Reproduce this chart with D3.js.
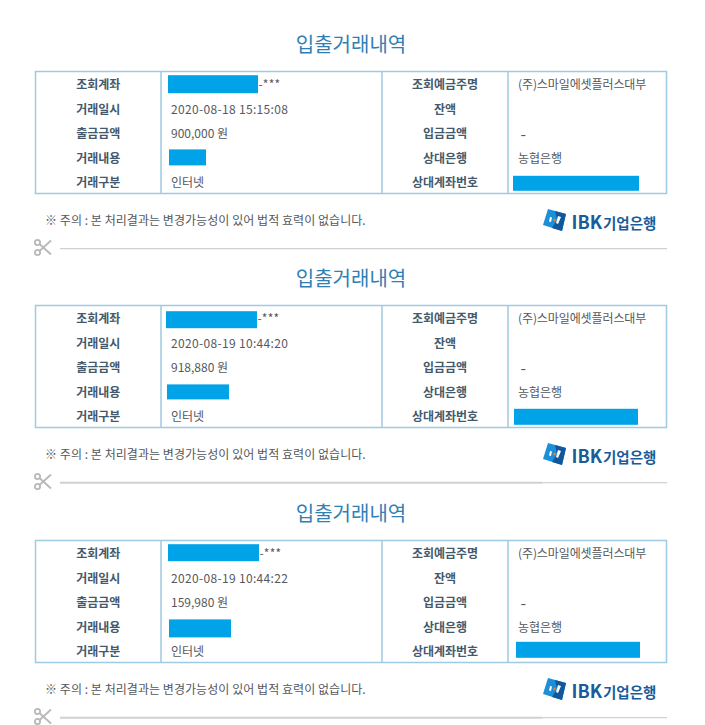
<!DOCTYPE html>
<html>
<head>
<meta charset="utf-8">
<script src="https://cdn.jsdelivr.net/npm/d3@7"></script>
<style>
body { margin: 0; background: #fff; }
text { font-family: "Noto Sans CJK KR", "Noto Sans", sans-serif; }
</style>
</head>
<body>
<svg id="receipts" width="705" height="725"></svg>
<script>
// data
const title = '입출거래내역';
const notice = '※ 주의 : 본 처리결과는 변경가능성이 있어 법적 효력이 없습니다.';
const leftLabels = ['조회계좌', '거래일시', '출금금액', '거래내용', '거래구분'];
const rightLabels = ['조회예금주명', '잔액', '입금금액', '상대은행', '상대계좌번호'];
const tradeTimes = ['2020-08-18 15:15:08', '2020-08-19 10:44:20', '2020-08-19 10:44:22'];
const amounts = ['900,000 원', '918,880 원', '159,980 원'];
const channel = '인터넷';
const accountSuffix = '-***';
const holder = '(주)스마일에셋플러스대부';
const depositAmount = '-';
const otherBank = '농협은행';

// painted-over fields, one entry per receipt: [start in cell, width, offset from row centre, height]
const accountMask = [[7, 90, -9, 18], [5, 91, -7, 17], [7, 91, -9, 17]];
const contentMask = [[8, 37, -8, 16], [6, 62, -7, 15], [8, 62, -7, 18]];
const otherAccountMask = [[5, 126, -6, 15], [6, 124, -7, 16], [8, 124, -9, 16]];

const receiptTops = [0, 234, 469];
const cutLineWeights = [1.2, 2, 2];

const svg = d3.select('#receipts');
const blue = '#00a2e8';
const border = '#9fcae1';
const textGrey = '#55585c';

const colX = d3.scaleOrdinal()
    .domain(['left', 'leftValue', 'right', 'rightValue', 'end'])
    .range([35.5, 161, 382, 508, 666.5]);
const rowY = d3.scaleBand().domain(d3.range(5)).range([72, 194]);

function drawScissors(g, y) {
    const s = g.append('g')
        .attr('transform', 'translate(42,' + y + ')')
        .attr('fill', 'none')
        .attr('stroke', '#b8b8b8')
        .attr('stroke-width', 1.8);
    s.append('circle').attr('cx', -4.5).attr('cy', -5).attr('r', 2.6);
    s.append('circle').attr('cx', -4.5).attr('cy', 5).attr('r', 2.6);
    s.append('line').attr('x1', -2.5).attr('y1', -3.5).attr('x2', 9).attr('y2', 7);
    s.append('line').attr('x1', -2.5).attr('y1', 3.5).attr('x2', 9).attr('y2', -7);
}

function drawLogo(g) {
    const logo = g.append('g').attr('transform', 'translate(543,209)');
    logo.append('path')
        .attr('d', 'M5,0 L23,5 L19,22 L0,16 Z')
        .attr('fill', '#1c8fd8');
    logo.append('path')
        .attr('d', 'M12,2 L23,5 L19,22 L9,19 L14,11 Z')
        .attr('fill', '#12569c');
    logo.append('path')
        .attr('d', 'M7,8 L9,8.5 L8,13 L6,12.5 Z M15,7 L18,8 L15,15 L13,14 Z')
        .attr('fill', '#fff');
    logo.append('circle')
        .attr('cx', 11.5).attr('cy', 11).attr('r', 1.2)
        .attr('fill', '#f08030');
    logo.append('text')
        .attr('x', 28.5).attr('y', 20)
        .attr('font-size', 18).attr('font-weight', 700)
        .attr('fill', '#1a5c9a')
        .text('IBK');
    logo.append('text')
        .attr('x', 60).attr('y', 19.5)
        .attr('font-size', 14.5).attr('font-weight', 700)
        .attr('fill', '#1a5c9a')
        .text('기업은행');
}

receiptTops.forEach((top, i) => {
    const g = svg.append('g').attr('transform', 'translate(0,' + top + ')');

    g.append('text')
        .attr('x', 351).attr('y', 43.5)
        .attr('text-anchor', 'middle').attr('dominant-baseline', 'central')
        .attr('font-size', 20).attr('fill', '#2f7fb5')
        .text(title);

    g.append('rect')
        .attr('x', colX('left')).attr('y', rowY.range()[0] - 0.5)
        .attr('width', colX('end') - colX('left'))
        .attr('height', rowY.range()[1] - rowY.range()[0])
        .attr('fill', 'none').attr('stroke', border).attr('stroke-width', 1.5);

    ['leftValue', 'right', 'rightValue'].forEach(c => {
        g.append('line')
            .attr('x1', colX(c)).attr('x2', colX(c))
            .attr('y1', rowY.range()[0]).attr('y2', rowY.range()[1])
            .attr('stroke', border).attr('stroke-width', 1.5);
    });

    const cellY = r => rowY(r) + rowY.bandwidth() / 2 - 0.3;

    const labelCol = (labels, c0, c1) => {
        g.selectAll(null).data(labels).enter().append('text')
            .attr('x', (colX(c0) + colX(c1)) / 2)
            .attr('y', (d, r) => cellY(r))
            .attr('text-anchor', 'middle').attr('dominant-baseline', 'central')
            .attr('font-size', 12).attr('font-weight', 700)
            .attr('fill', '#44596b')
            .text(d => d);
    };
    labelCol(leftLabels, 'left', 'leftValue');
    labelCol(rightLabels, 'right', 'rightValue');

    const valueText = (x, r, value) => g.append('text')
        .attr('x', x)
        .attr('y', cellY(r))
        .attr('dominant-baseline', 'central')
        .attr('font-size', 12).attr('fill', textGrey)
        .text(value);

    valueText(colX('leftValue') + 10, 1, tradeTimes[i]).attr('letter-spacing', 0.33);
    valueText(colX('leftValue') + 10, 2, amounts[i]);
    valueText(colX('leftValue') + 10, 4, channel);
    valueText(colX('rightValue') + 10, 0, holder).attr('letter-spacing', -0.1);
    valueText(colX('rightValue') + 12.5, 2, depositAmount).attr('font-size', 16);
    valueText(colX('rightValue') + 10, 3, otherBank);

    // painted-over fields
    const masks = [
        {cell: 'leftValue', r: 0, m: accountMask[i]},
        {cell: 'leftValue', r: 3, m: contentMask[i]},
        {cell: 'rightValue', r: 4, m: otherAccountMask[i]}
    ];
    g.selectAll(null).data(masks).enter().append('rect')
        .attr('x', d => colX(d.cell) + d.m[0])
        .attr('y', d => cellY(d.r) + 0.3 + d.m[2])
        .attr('width', d => d.m[1])
        .attr('height', d => d.m[3])
        .attr('fill', blue);

    valueText(colX('leftValue') + accountMask[i][0] + accountMask[i][1] + 0.5, 0, accountSuffix)
        .attr('letter-spacing', 0.2);

    g.append('text')
        .attr('x', 45).attr('y', 219)
        .attr('dominant-baseline', 'central')
        .attr('font-size', 12).attr('letter-spacing', 0.05).attr('fill', textGrey)
        .text(notice);

    drawLogo(g);
    drawScissors(g, 247.5);

    // the cut line is heavier up to the image seam on the lower two receipts
    g.append('line')
        .attr('x1', 60).attr('x2', 542)
        .attr('y1', 248.7).attr('y2', 248.7)
        .attr('stroke', '#d0d0d0').attr('stroke-width', cutLineWeights[i]);
    g.append('line')
        .attr('x1', 542).attr('x2', 667)
        .attr('y1', 248.7).attr('y2', 248.7)
        .attr('stroke', '#d0d0d0').attr('stroke-width', 1.2);
});
</script>
</body>
</html>
